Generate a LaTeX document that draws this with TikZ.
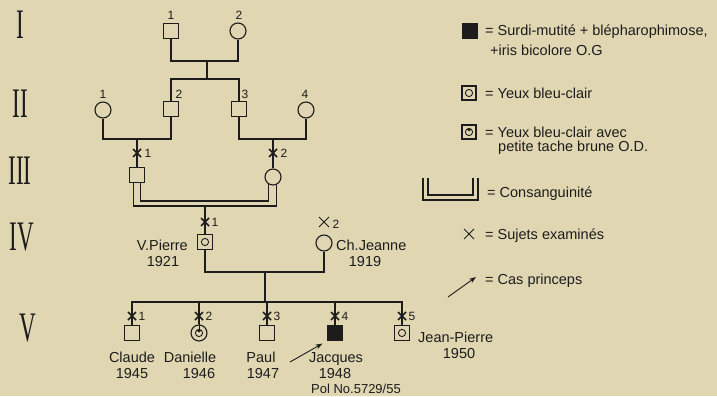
\documentclass[tikz,border=0pt]{standalone}
\usepackage{fontspec}
\setmainfont{Liberation Sans}
\newfontfamily\romfont{Liberation Serif}
\usetikzlibrary{arrows.meta}
\definecolor{bg}{RGB}{224,215,178}
\definecolor{ink}{RGB}{28,28,28}
\newcommand\labfont{\fontsize{14.5}{17}\selectfont}
\newcommand\numfont{\fontsize{12}{14}\selectfont}
\newcommand\romnum[1]{\scalebox{0.55}[1]{\romfont\fontsize{42}{44}\selectfont #1}}
\tikzset{
  ln/.style={draw=ink, line width=1.1pt},
  sq/.style={rectangle, draw=ink, line width=1.1pt, minimum size=15pt, inner sep=0pt},
  ci/.style={circle, draw=ink, line width=1.1pt, minimum size=16pt, inner sep=0pt},
  aff/.style={fill=ink},
  eye/.style={path picture={\draw[ink, line width=0.9pt] (path picture bounding box.center) circle (3.6pt);}},
  tache/.style={path picture={\draw[ink, line width=0.9pt] (path picture bounding box.center) circle (3.6pt);
      \fill[ink] ([yshift=2.4pt]path picture bounding box.center) circle (1.9pt);}},
  tt/.style={inner sep=0pt, text height=10.4pt, text depth=0pt, font=\labfont, text=ink},
  nn/.style={inner sep=0pt, text height=8.6pt, text depth=0pt, font=\numfont, text=ink},
  rn/.style={inner sep=0pt, text=ink},
  xm/.pic={\draw[ink, line width=1.5pt] (-4,-4)--(4,4) (-4,4)--(4,-4);},
  xthin/.pic={\draw[ink, line width=0.9pt] (-5,-5)--(5,5) (-5,5)--(5,-5);},
  arr/.style={draw=ink, line width=0.9pt, -{Stealth[length=7pt,width=5pt]}}
}
\begin{document}
\begin{tikzpicture}[x=1pt,y=-1pt]
\useasboundingbox (0,0) rectangle (717,396);
\fill[bg] (0,0) rectangle (717,396);

% generation numerals
\node[rn] (gI) at (20,25) {\romnum{I}};
\node[rn] (gII) at (20,104) {\romnum{II}};
\node[rn] (gIII) at (20,171) {\romnum{III}};
\node[rn] (gIV) at (22,237) {\romnum{IV}};
\node[rn] (gV) at (28,328) {\romnum{V}};

% generation I
\node[sq] (I1) at (171,31) {};
\node[ci] (I2) at (238,31) {};
\node[nn] (I1n) at (171,15) {1};
\node[nn] (I2n) at (239,15) {2};
\coordinate (m1) at (207,61);
\coordinate (s1) at (207,79);
\draw[ln] (I1.south) |- (m1) -| (I2.south);
\draw[ln] (m1) -- (s1);

% generation II
\node[ci] (II1) at (103,110) {};
\node[sq] (II2) at (171,109) {};
\node[sq] (II3) at (239,109) {};
\node[ci] (II4) at (306,110) {};
\node[nn] (II1n) at (103,94) {1};
\node[nn] (II2n) at (179,94) {2};
\node[nn] (II3n) at (245,94) {3};
\node[nn] (II4n) at (305,94) {4};
\draw[ln] (II2.north) |- (s1) -| (II3.north);
\coordinate (m2) at (137,139);
\coordinate (m3) at (273,139);
\draw[ln] (II1.south) |- (m2) -| (II2.south);
\draw[ln] (II3.south) |- (m3) -| (II4.south);

% generation III
\node[sq] (III1) at (137,175) {};
\node[ci] (III2) at (273,177) {};
\draw[ln] (m2) -- (III1.north);
\draw[ln] (m3) -- (III2.north);
\pic at (137,153) {xm};
\pic at (273,153) {xm};
\node[nn] (III1n) at (148,153) {1};
\node[nn] (III2n) at (284,153) {2};

% consanguineous marriage (double line)
\coordinate (c1) at (205,206);
\coordinate (c1i) at (205,201);
\draw[ln] ([xshift=-3.5pt]III1.south) |- (c1) -| (III2.-68);
\draw[ln] ([xshift=3.5pt]III1.south) |- (c1i) -| (III2.240);

% generation IV
\node[sq, eye] (IV1) at (205,242) {};
\node[ci] (IV2) at (324,243) {};
\draw[ln] (c1) -- (IV1.north);
\pic at (205,222) {xm};
\node[nn] (IV1n) at (215,222) {1};
\pic at (324,222) {xthin};
\node[nn] (IV2n) at (336,224) {2};
\node[tt, anchor=east] (IV1a) at (188,245) {V.Pierre};
\node[tt] (IV1b) at (163,261) {1921};
\node[tt, anchor=west] (IV2a) at (336,245) {Ch.Jeanne};
\node[tt] (IV2b) at (365,261) {1919};
\coordinate (m4) at (265,272);
\coordinate (s4) at (265,302);
\draw[ln] (IV1.south) |- (m4) -| (IV2.south);
\draw[ln] (m4) -- (s4);

% generation V
\node[sq] (V1) at (132,333) {};
\node[ci, tache] (V2) at (199,333) {};
\node[sq] (V3) at (267,333) {};
\node[sq, aff] (V4) at (335,333) {};
\node[sq, eye] (V5) at (402,333) {};
\draw[ln] (V1.north) |- (s4) -| (V5.north);
\draw[ln] (V2.north) -- (V2.north |- s4);
\draw[ln] (V3.north) -- (V3.north |- s4);
\draw[ln] (V4.north) -- (V4.north |- s4);
\draw[ink, line width=0.9pt] (V2.north) -- ([yshift=2.4pt]V2.center);
\foreach \xx/\k in {132/1,199/2,267/3,335/4,402/5}{
  \pic at (\xx,316) {xm};
  \node[nn] at (\xx+10,316) {\k};
}
\node[tt] (V1a) at (132,357) {Claude};
\node[tt] (V1b) at (132,373) {1945};
\node[tt] (V2a) at (190,357) {Danielle};
\node[tt] (V2b) at (199,373) {1946};
\node[tt] (V3a) at (261,357) {Paul};
\node[tt] (V3b) at (263,373) {1947};
\node[tt] (V4a) at (336,357) {Jacques};
\node[tt] (V4b) at (335,373) {1948};
\node[tt, font=\fontsize{13}{15}\selectfont] (V4c) at (356,388.5) {Pol No.5729/55};
\node[tt, anchor=west] (V5a) at (418,337) {Jean-Pierre};
\node[tt] (V5b) at (459,353) {1950};
\coordinate (aJ) at (290,362);
\draw[arr] (aJ) -- ([shift={(-4.5pt,-2.5pt)}]V4.south west);

% legend
\node[sq, aff, minimum size=14pt] (L1) at (470,31) {};
\node[tt, anchor=west] (L1a) at (485,30) {= Surdi-mutité + blépharophimose,};
\node[tt, anchor=west] (L1b) at (490,50) {+iris bicolore O.G};
\node[sq, eye, minimum size=14pt] (L2) at (469,93) {};
\node[tt, anchor=west] (L2a) at (485,93) {= Yeux bleu-clair};
\node[sq, tache, minimum size=14pt] (L3) at (469,132) {};
\node[tt, anchor=west] (L3a) at (485,132) {= Yeux bleu-clair avec};
\node[tt, anchor=west] (L3b) at (498,146) {petite tache brune O.D.};
\draw[ln] (423,178) |- (478,200) -- (478,178);
\draw[ln] (428,178) |- (473,195) -- (473,178);
\node[tt, anchor=west] (L4a) at (487,192) {= Consanguinité};
\pic at (469,234) {xthin};
\node[tt, anchor=west] (L5a) at (485,234) {= Sujets examinés};
\coordinate (La0) at (448,297);
\coordinate (La1) at (476,277);
\draw[arr] (La0) -- (La1);
\node[tt, anchor=west] (L6a) at (485,279) {= Cas princeps};
\end{tikzpicture}
\end{document}
